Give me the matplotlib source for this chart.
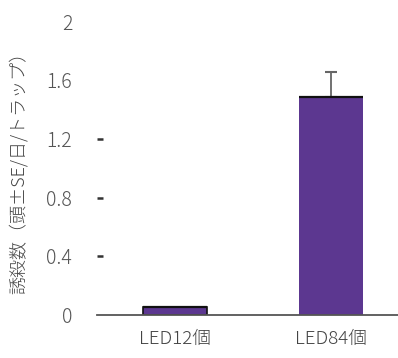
import numpy as np
import matplotlib.pyplot as plt
import matplotlib.transforms as mtransforms

plt.rcParams['font.family'] = ['Noto Sans CJK JP', 'DejaVu Sans']

# データ
categories = ['LED12個', 'LED84個']
values = [0.055, 1.49]
errors = [0.0, 0.17]
yticks = [0, 0.4, 0.8, 1.2, 1.6, 2]
ytick_labels = ['0', '0.4', '0.8', '1.2', '1.6', '2']
dash_ticks = [0.4, 0.8, 1.2]

fig = plt.figure(figsize=(3.98, 3.58), dpi=100)
ax = fig.add_axes([0.244, 0.12, 0.756, 0.819])

x = np.arange(len(categories))
bars = ax.bar(x, values, width=0.41, color='#5c3790', zorder=2)
bars[0].set_edgecolor('#111111')
bars[0].set_linewidth(1.2)
# 棒の上端の黒線
ax.hlines(values, x - 0.205, x + 0.205, colors='#111111', lw=1.6, zorder=3)
ax.errorbar(x[1:], values[1:], yerr=[[0], errors[1:]], fmt='none',
            ecolor='#666666', elinewidth=1.3, capsize=4, capthick=1.5, zorder=1)

ax.set_xlim(-0.5, 1.43)
ax.set_ylim(0, 2)
ax.set_yticks(yticks)
ax.set_yticklabels(ytick_labels, fontweight='light')
ax.set_xticks(x)
ax.set_xticklabels(categories, fontweight='light')
ax.tick_params(axis='y', length=0, pad=18, labelsize=14, labelcolor='#555555')
ax.tick_params(axis='x', length=0, pad=11, labelsize=13.5, labelcolor='#444444')

for s in ['top', 'right', 'left']:
    ax.spines[s].set_visible(False)
ax.spines['bottom'].set_color('#555555')
ax.spines['bottom'].set_linewidth(1.3)

trans = mtransforms.blended_transform_factory(ax.transAxes, ax.transData)
ax.plot([0.01] * len(dash_ticks), dash_ticks, marker='_', ms=5, mew=1.8,
        color='#333333', ls='none', transform=trans, clip_on=False)

fig.text(0.045, 0.53, '誘殺数（頭±SE/日/トラップ）', rotation=90, ha='center',
         va='center', fontsize=13, color='#444444', fontweight='light')

fig.savefig('out.png', dpi=100)
